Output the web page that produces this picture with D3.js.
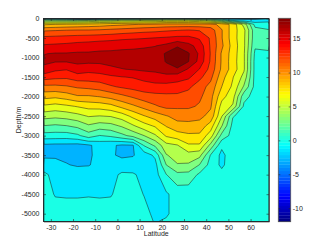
<!DOCTYPE html>
<html>
<head>
<meta charset="utf-8">
<script src="https://cdn.jsdelivr.net/npm/d3@7/dist/d3.min.js"></script>
<style>
  body { margin: 0; background: #fff; }
  svg text { font-family: "Liberation Sans", Arial, Helvetica, sans-serif; font-size: 7px; fill: #262626; }
  .axis path, .axis line { stroke: #262626; stroke-width: 0.6; }
</style>
</head>
<body>
<svg id="chart" width="332" height="249"></svg>
<script>
// grid of the section: columns are latitudes, rows are depths (m)
const latitudes = [-33, -28, -23, -18, -13, -8, -3, 2, 7, 12, 17, 22, 27, 32, 37, 42, 47, 52, 57, 62, 68];
const depths = [0, 50, 150, 300, 500, 700, 900, 1100, 1300, 1500, 1750, 2000, 2250, 2500, 2750, 3000, 3250, 3500, 3750, 4000, 4500, 5000, 5200];

// values, one row per depth
const field = [
  [-1, -2, -4, -7, -7, -6, -3, -1, -1, 0, 0.5, 0.5, 0, 0, -0.5, -1, -2, -2.5, -2, -2, -1.5],
  [4, 4, 4, 4, 4.5, 5, 5, 5.5, 5.5, 6, 6, 6.5, 6.5, 6.5, 6, 5, 3, 0, -1, -1, -0.5],
  [8.8, 9, 9.2, 9.3, 9.5, 9.7, 10, 10.2, 10.4, 10.6, 10.8, 11, 11, 11, 11, 11, 10, 8.5, 5.5, 1, 0.8],
  [11.8, 11.9, 12, 12.1, 12.1, 12.2, 12.4, 12.6, 12.8, 13, 13.1, 13.3, 13.45, 13.6, 13.4, 12.8, 10.6, 8.2, 6.4, 2, 1.6],
  [13.9, 14, 14.1, 14.2, 14.3, 14.4, 14.5, 14.7, 14.8, 14.9, 15.05, 15.2, 15.4, 15.4, 14.8, 13.3, 10.6, 8.2, 6.3, 2, 1.9],
  [15.2, 15.3, 15.4, 15.6, 15.7, 15.9, 16, 16.1, 16.2, 16.3, 16.45, 16.9, 17.9, 17, 15.9, 13.3, 10.8, 8.4, 6.3, 1.7, 1.8],
  [16.45, 16.6, 16.6, 16.7, 16.7, 16.8, 16.8, 16.9, 16.9, 17, 17.1, 18.2, 18.6, 18.15, 16.2, 13.4, 10.3, 8.3, 6.2, 1.2, 1.3],
  [16.8, 16.6, 16.6, 16.8, 16.8, 16.8, 16.9, 17, 17, 17.1, 17.2, 18.1, 18.5, 18.05, 16, 13.3, 10.3, 8.2, 6.2, 1, 1],
  [16.1, 15.3, 15.1, 15.9, 15.5, 15.7, 16.2, 16.45, 16.6, 16.8, 16.9, 17.5, 17.9, 16.3, 14.95, 13, 10.2, 8.3, 6.2, 1, 0.9],
  [14.2, 13.9, 13.8, 14.3, 14.3, 14.4, 14.7, 14.95, 15.1, 15.5, 15.8, 15.9, 15.6, 15.3, 13.9, 12.4, 9.6, 7.6, 5.5, 1, 0.9],
  [11.6, 11.6, 11.8, 12.2, 12.4, 12.7, 13.3, 13.7, 14, 14.3, 14.5, 14.5, 14.4, 13.8, 12.7, 11.5, 9, 7.2, 4.3, 1, 0.9],
  [9.5, 9.3, 9.7, 10.3, 10.3, 10.55, 11, 11.6, 12.2, 12.8, 13, 13.1, 13.1, 12.9, 12.3, 11, 8, 6.6, 2, 0.95, 0.9],
  [7.2, 6.9, 7.2, 7.6, 8, 8.1, 8.5, 9.4, 10.2, 11, 11.8, 12.4, 12.3, 12.3, 11.8, 10.7, 6.9, 5.8, 1.2, 0.95, 0.9],
  [5.1, 4.9, 5.1, 5.5, 6.1, 5.95, 6.1, 6.7, 7.9, 8.9, 9.7, 10.4, 11, 11, 10.9, 10, 6.1, 1.6, 1, 0.95, 0.9],
  [2.95, 2.75, 2.95, 3.4, 4.3, 3.8, 4, 4.7, 5.8, 6.9, 7.7, 9.1, 10, 10.1, 9.9, 8.3, 4.6, 1, 0.9, 0.9, 0.9],
  [0.9, 0.85, 0.8, 1.2, 2.3, 1.45, 1.8, 2.6, 3.5, 4.5, 5.8, 7.7, 8.3, 8.7, 8.7, 6.7, 2.5, 0.9, 0.9, 0.9, 0.9],
  [-1.8, -1.9, -1.9, -2, -1.7, -1, -1.3, -1.7, -1.6, 1.6, 3.3, 5.5, 5.9, 7.3, 7.3, 4, 0.3, 0.9, 0.9, 0.9, 0.9],
  [-1.8, -1.8, -1.9, -2, -1.7, -1.1, -1.35, -1.7, -1.6, -0.8, 0.3, 4.4, 5.1, 5.4, 5, 1.4, -0.4, 0.9, 0.9, 0.9, 0.9],
  [-0.8, -0.9, -1.4, -1.7, -1.6, -1, -1, -1, -0.9, -0.8, -0.5, 3, 4.4, 4.3, 2.95, 0.9, -0.3, 0.9, 0.9, 0.9, 0.9],
  [0.3, -0.5, -0.6, -0.5, -0.6, -0.8, -0.6, 0.3, 0.2, -0.5, -0.6, 1.45, 2.6, 2.5, 1.2, 0.9, 0.5, 0.9, 0.9, 0.9, 0.9],
  [0.6, -0.1, -0.15, -0.15, -0.1, -0.15, -0.1, 0.5, 0.5, -0.05, -0.5, -0.2, 0.6, 0.6, 0.8, 0.8, 0.8, 0.9, 0.9, 0.9, 0.9],
  [0.8, 0.6, 0.6, 0.6, 0.6, 0.6, 0.6, 0.7, 0.7, 0.4, -0.3, -0.2, 0.6, 0.6, 0.7, 0.8, 0.8, 0.9, 0.9, 0.9, 0.9],
  [0.8, 0.7, 0.7, 0.7, 0.7, 0.7, 0.7, 0.7, 0.7, 0.5, -0.1, 0.2, 0.6, 0.6, 0.7, 0.8, 0.8, 0.9, 0.9, 0.9, 0.9]
];

const levels = [-9, -7.5, -6, -4.5, -3, -1.5, 0, 1.5, 3, 4.5, 6, 7.5, 9, 10.5, 12, 13.5, 15, 16.5, 18];
const xTicks = [-30, -20, -10, 0, 10, 20, 30, 40, 50, 60];
const yTicks = [0, -500, -1000, -1500, -2000, -2500, -3000, -3500, -4000, -4500, -5000];
const colorbarTicks = [-10, -5, 0, 5, 10, 15];
const colorLimits = [-12, 18];
const latExtent = [-33.3, 68.3];
const depthExtent = [-5200, 0];

// matlab style jet colormap
const jet = (t) => {
  const c = (v) => Math.round(255 * Math.max(0, Math.min(1, v)));
  return `rgb(${c(1.5 - Math.abs(4 * t - 3))},${c(1.5 - Math.abs(4 * t - 2))},${c(1.5 - Math.abs(4 * t - 1))})`;
};
const colorT = d3.scaleLinear().domain(colorLimits).range([0, 1]).clamp(true);
const color = (v) => jet(colorT(v));

const svg = d3.select('#chart');

// plot area
const plot = { left: 43.5, right: 269, top: 18.5, bottom: 221.5 };
const x = d3.scaleLinear().domain(latExtent).range([plot.left, plot.right]);
const y = d3.scaleLinear().domain(depthExtent).range([plot.bottom, plot.top]);

// grid index -> latitude / depth (values sit at cell centres)
const n = latitudes.length;
const m = depths.length;
const gx = d3.scaleLinear()
  .domain([0, ...latitudes.map((d, i) => i + 0.5), n])
  .range([latExtent[0], ...latitudes, latExtent[1]]);
const gy = d3.scaleLinear()
  .domain([0, ...depths.map((d, i) => i + 0.5), m])
  .range([0, ...depths.map((d) => -d), depthExtent[0]]);

const values = field.flat();
const contours = d3.contours().size([n, m]).thresholds(levels)(values);

const projection = d3.geoTransform({
  point: function (px, py) {
    this.stream.point(x(gx(px)), y(gy(py)));
  }
});
const path = d3.geoPath(projection);

svg.append('clipPath')
  .attr('id', 'clip')
  .append('rect')
  .attr('x', plot.left)
  .attr('y', plot.top)
  .attr('width', plot.right - plot.left)
  .attr('height', plot.bottom - plot.top);

const map = svg.append('g').attr('clip-path', 'url(#clip)');

map.append('rect')
  .attr('x', plot.left)
  .attr('y', plot.top)
  .attr('width', plot.right - plot.left)
  .attr('height', plot.bottom - plot.top)
  .attr('fill', color(levels[0] - 1.5));

map.selectAll('path')
  .data(contours)
  .enter()
  .append('path')
  .attr('d', path)
  .attr('fill', (d) => color(d.value))
  .attr('stroke', '#1a1a1a')
  .attr('stroke-width', 0.5)
  .attr('stroke-linejoin', 'round');

// axes with inward ticks on all four sides
const fmt = (d) => String(d);
svg.append('g')
  .attr('class', 'axis')
  .attr('transform', `translate(${plot.left},0)`)
  .call(d3.axisLeft(y).tickValues(yTicks).tickFormat(fmt).tickSizeInner(-2.5).tickSizeOuter(0).tickPadding(4));
svg.append('g')
  .attr('class', 'axis')
  .attr('transform', `translate(${plot.right},0)`)
  .call(d3.axisRight(y).tickValues(yTicks).tickFormat('').tickSizeInner(-2.5).tickSizeOuter(0));
svg.append('g')
  .attr('class', 'axis')
  .attr('transform', `translate(0,${plot.bottom})`)
  .call(d3.axisBottom(x).tickValues(xTicks).tickFormat(fmt).tickSizeInner(-2.5).tickSizeOuter(0).tickPadding(3.5));
svg.append('g')
  .attr('class', 'axis')
  .attr('transform', `translate(0,${plot.top})`)
  .call(d3.axisTop(x).tickValues(xTicks).tickFormat('').tickSizeInner(-2.5).tickSizeOuter(0));

svg.append('rect')
  .attr('x', plot.left)
  .attr('y', plot.top)
  .attr('width', plot.right - plot.left)
  .attr('height', plot.bottom - plot.top)
  .attr('fill', 'none')
  .attr('stroke', '#262626')
  .attr('stroke-width', 0.8);

// axis titles
svg.append('text')
  .attr('x', (plot.left + plot.right) / 2)
  .attr('y', 235.5)
  .attr('text-anchor', 'middle')
  .text('Latitude');
svg.append('text')
  .attr('transform', `translate(21,${(plot.top + plot.bottom) / 2}) rotate(-90)`)
  .attr('text-anchor', 'middle')
  .text('Depth/m');

// colorbar
const bar = { left: 278.3, right: 290.7, top: 18.3, bottom: 221.7 };
const cy = d3.scaleLinear().domain(colorLimits).range([bar.bottom, bar.top]);
const steps = d3.range(64);
const stepSize = (colorLimits[1] - colorLimits[0]) / steps.length;

svg.append('g')
  .selectAll('rect')
  .data(steps)
  .enter()
  .append('rect')
  .attr('x', bar.left)
  .attr('width', bar.right - bar.left)
  .attr('y', (d) => cy(colorLimits[0] + (d + 1) * stepSize))
  .attr('height', (d) => cy(colorLimits[0] + d * stepSize) - cy(colorLimits[0] + (d + 1) * stepSize) + 0.3)
  .attr('fill', (d) => jet((d + 0.5) / steps.length));

svg.append('g')
  .attr('class', 'axis')
  .attr('transform', `translate(${bar.right},0)`)
  .call(d3.axisRight(cy).tickValues(colorbarTicks).tickFormat(fmt).tickSizeInner(-2).tickSizeOuter(0).tickPadding(2))
  .call((g) => g.select('.domain').remove());
svg.append('g')
  .attr('class', 'axis')
  .attr('transform', `translate(${bar.left},0)`)
  .call(d3.axisLeft(cy).tickValues(colorbarTicks).tickFormat('').tickSizeInner(-2).tickSizeOuter(0))
  .call((g) => g.select('.domain').remove());

svg.append('rect')
  .attr('x', bar.left)
  .attr('y', bar.top)
  .attr('width', bar.right - bar.left)
  .attr('height', bar.bottom - bar.top)
  .attr('fill', 'none')
  .attr('stroke', '#555')
  .attr('stroke-width', 0.8);
</script>
</body>
</html>
